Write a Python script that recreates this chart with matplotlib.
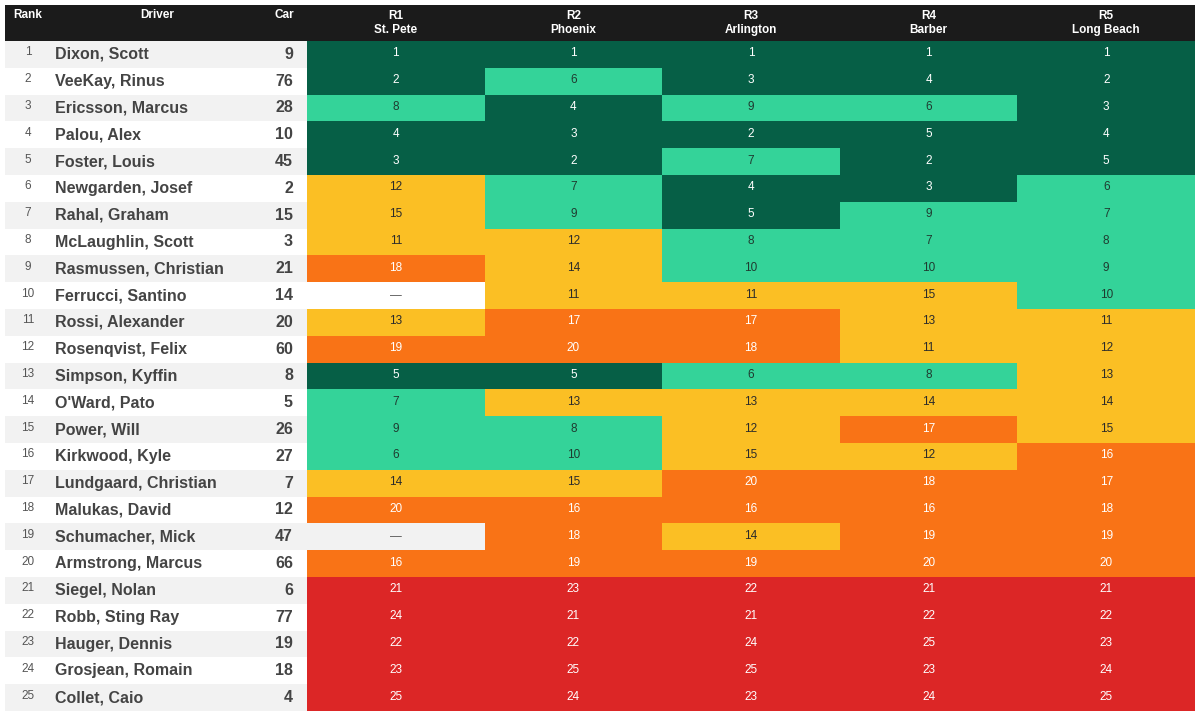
import numpy as np
import matplotlib
matplotlib.use("Agg")
import matplotlib.pyplot as plt
from matplotlib.colors import ListedColormap, BoundaryNorm
from matplotlib.patches import Rectangle

plt.rcParams['font.family'] = ['Liberation Sans', 'DejaVu Sans']

drivers = ["Dixon, Scott", "VeeKay, Rinus", "Ericsson, Marcus", "Palou, Alex", "Foster, Louis",
           "Newgarden, Josef", "Rahal, Graham", "McLaughlin, Scott", "Rasmussen, Christian",
           "Ferrucci, Santino", "Rossi, Alexander", "Rosenqvist, Felix", "Simpson, Kyffin",
           "O'Ward, Pato", "Power, Will", "Kirkwood, Kyle", "Lundgaard, Christian",
           "Malukas, David", "Schumacher, Mick", "Armstrong, Marcus", "Siegel, Nolan",
           "Robb, Sting Ray", "Hauger, Dennis", "Grosjean, Romain", "Collet, Caio"]
cars = [9, 76, 28, 10, 45, 2, 15, 3, 21, 14, 20, 60, 8, 5, 26, 27, 7, 12, 47, 66, 6, 77, 19, 18, 4]
races = ["R1\nSt. Pete", "R2\nPhoenix", "R3\nArlington", "R4\nBarber", "R5\nLong Beach"]
N = None
r1 = [1, 2, 8, 4, 3, 12, 15, 11, 18, N, 13, 19, 5, 7, 9, 6, 14, 20, N, 16, 21, 24, 22, 23, 25]
r2 = [1, 6, 4, 3, 2, 7, 9, 12, 14, 11, 17, 20, 5, 13, 8, 10, 15, 16, 18, 19, 23, 21, 22, 25, 24]
r3 = [1, 3, 9, 2, 7, 4, 5, 8, 10, 11, 17, 18, 6, 13, 12, 15, 20, 16, 14, 19, 22, 21, 24, 25, 23]
r4 = [1, 4, 6, 5, 2, 3, 9, 7, 10, 15, 13, 11, 8, 14, 17, 12, 18, 16, 19, 20, 21, 22, 25, 23, 24]
r5 = list(range(1, 26))

results = [r1, r2, r3, r4, r5]

# colour bins: 1-5, 6-10, 11-15, 16-20, 21-25
bin_colors = ["#065f46", "#34d399", "#fbbf24", "#f97316", "#dc2626"]
bin_text = ["#ffffff", "#1f3b30", "#2b2b2b", "#ffffff", "#ffffff"]

W, H = 1200, 718
fig = plt.figure(figsize=(W / 100, H / 100), dpi=100)
ax = fig.add_axes([0, 0, 1, 1])
ax.set_xlim(0, W)
ax.set_ylim(H, 0)
ax.axis("off")

left, right = 5, 1195
top, head_h = 5, 36
n = len(drivers)
row_h = (711 - (top + head_h)) / n
y0 = top + head_h
race_left = 307
col_w = (right - race_left) / len(races)

# header
ax.add_patch(Rectangle((left, top), right - left, head_h, color="#1b1b1b", lw=0))
hy = top + head_h / 2
ax.text(28, top + 10, "Rank", color="white", fontsize=8.5, fontweight="bold", ha="center", va="center")
ax.text(157, top + 10, "Driver", color="white", fontsize=8.5, fontweight="bold", ha="center", va="center")
ax.text(284, top + 10, "Car", color="white", fontsize=8.5, fontweight="bold", ha="center", va="center")
for j, lab in enumerate(races):
    ax.text(race_left + col_w * (j + 0.5), hy, lab, color="white", fontsize=8.5,
            fontweight="bold", ha="center", va="center", linespacing=1.15)

# left columns with striping
for i in range(n):
    yt = y0 + i * row_h
    yc = yt + row_h / 2
    bg = "#f2f2f2" if i % 2 == 0 else "#ffffff"
    ax.add_patch(Rectangle((left, yt), race_left - left, row_h, color=bg, lw=0))
    ax.text(28, yc - 2, str(i + 1), color="#555555", fontsize=8.5, ha="center", va="center")
    ax.text(55, yc, drivers[i], color="#444444", fontsize=11.5, fontweight="bold", ha="left", va="center")
    ax.text(293, yc, str(cars[i]), color="#444444", fontsize=11.5, fontweight="bold", ha="right", va="center")

# race grid
vals = np.array([[np.nan if v is None else v for v in col] for col in results], dtype=float).T
masked = np.ma.masked_invalid(vals)
xedges = race_left + col_w * np.arange(len(races) + 1)
yedges = y0 + row_h * np.arange(n + 1)
cmap = ListedColormap(bin_colors)
norm = BoundaryNorm([0.5, 5.5, 10.5, 15.5, 20.5, 25.5], cmap.N)
ax.pcolormesh(xedges, yedges, masked, cmap=cmap, norm=norm, shading="flat", lw=0, antialiased=False)

for i in range(n):
    yc = y0 + (i + 0.5) * row_h
    for j in range(len(races)):
        xc = race_left + col_w * (j + 0.5)
        v = vals[i, j]
        if np.isnan(v):
            bg = "#f2f2f2" if i % 2 == 0 else "#ffffff"
            ax.add_patch(Rectangle((xedges[j], yedges[i]), col_w, row_h, color=bg, lw=0))
            ax.text(xc, yc, "\u2014", color="#555555", fontsize=8.5, ha="center", va="center")
        else:
            b = int((v - 1) // 5)
            ax.text(xc, yc - 1, str(int(v)), color=bin_text[b], fontsize=8.5, ha="center", va="center")

fig.savefig("out.png", dpi=100, facecolor="white")
